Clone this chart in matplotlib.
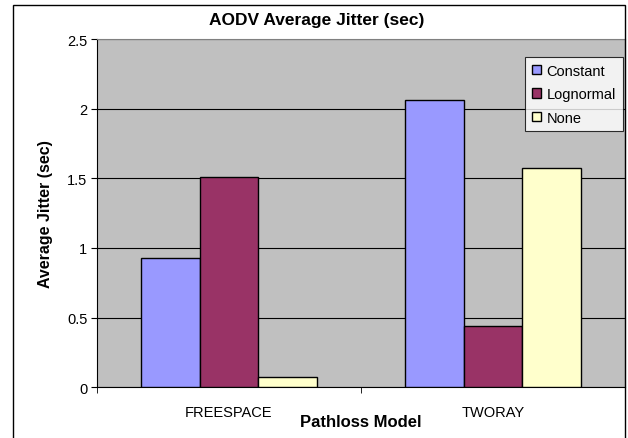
"""
AODV average jitter bar chart, Excel-style.
"""

import matplotlib
matplotlib.use("Agg")
import matplotlib.pyplot as plt
from matplotlib.patches import Rectangle
import numpy as np

# Data
categories = ["FREESPACE", "TWORAY"]
series_names = ["Constant", "Lognormal", "None"]
constant = [0.93, 2.065]
lognormal = [1.51, 0.44]
none = [0.075, 1.575]
series_values = [constant, lognormal, none]
series_colors = ["#9999FF", "#993366", "#FFFFCC"]
yticks = [0, 0.5, 1, 1.5, 2, 2.5]

plt.rcParams["font.family"] = ["Liberation Sans", "DejaVu Sans"]

W, H = 628, 439
fig = plt.figure(figsize=(W / 100, H / 100), dpi=100)
ax = fig.add_axes([97 / W, 1 - 388.3 / H, 528 / W, 348.3 / H])

# Outer chart border (bottom edge falls off the picture)
fig.patches.append(Rectangle((12.5 / W, -5 / H), 612.5 / W, (H + 5 - 5.5) / H,
                             transform=fig.transFigure, fill=False,
                             edgecolor="black", linewidth=1.0, zorder=0))

ax.set_facecolor("#C0C0C0")
x = np.arange(len(categories))
width = 0.222
for i, (name, vals, col) in enumerate(zip(series_names, series_values, series_colors)):
    ax.bar(x + (i - 1) * width, vals, width, color=col, edgecolor="black",
           linewidth=1.0, label=name, zorder=3)

ax.set_xlim(-0.5, 1.5)
ax.set_ylim(0, 2.5)
ax.set_yticks(yticks)
ax.set_yticklabels([f"{t:g}" for t in yticks], fontsize=10.5)
ax.yaxis.grid(True, color="black", linewidth=0.8, zorder=1)
ax.set_axisbelow(True)

ax.set_xticks(x)
ax.set_xticklabels(categories, fontsize=10.5)
ax.tick_params(axis="x", length=0, pad=13)
ax.set_xticks([-0.5, 0.5, 1.5], minor=True)
ax.tick_params(axis="x", which="minor", length=4, direction="out", color="black")
ax.tick_params(axis="y", length=4, direction="out", color="black", pad=3)

for side in ["top", "right"]:
    ax.spines[side].set_color("#808080")
for side in ["left", "bottom"]:
    ax.spines[side].set_color("black")

fig.text(317 / W, 1 - 21 / H, "AODV Average Jitter (sec)", fontsize=12.5,
         fontweight="bold", ha="center", va="center")
ax.set_ylabel("Average Jitter (sec)", fontsize=11.5, fontweight="bold", labelpad=10)
ax.set_xlabel("Pathloss Model", fontsize=12, fontweight="bold", labelpad=-4)

leg = ax.legend(loc="upper right",
                bbox_to_anchor=((622.5 - 97) / 528, (388.3 - 58) / 348.3),
                fontsize=10.5, frameon=True, fancybox=False, edgecolor="black",
                handlelength=0.65, handleheight=0.65, handletextpad=0.35,
                borderpad=0.45, labelspacing=0.65, borderaxespad=0)
leg.get_frame().set_linewidth(0.8)

fig.savefig("out.png", dpi=100)
